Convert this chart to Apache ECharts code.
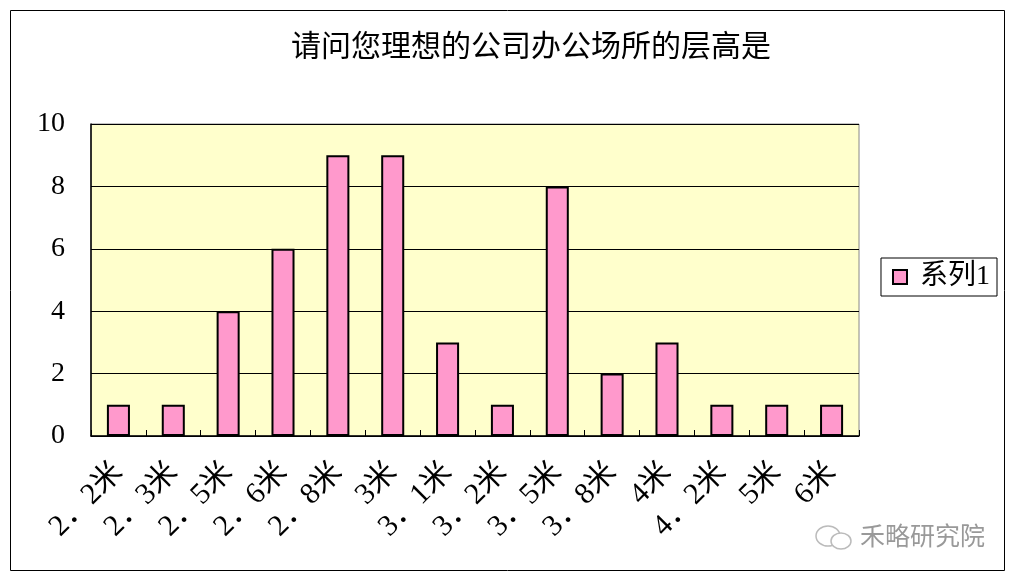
<!DOCTYPE html>
<html>
<head>
<meta charset="utf-8">
<script src="https://cdn.jsdelivr.net/npm/echarts@6/dist/echarts.min.js"></script>
<style>html,body{margin:0;padding:0;background:#fff}#c{width:1017px;height:581px}</style>
</head>
<body>
<div id="c"></div>
<script>
const titleText = '请问您理想的公司办公场所的层高是';
const categories = ['2．2米','2．3米','2．5米','2．6米','2．8米','3米','3．1米','3．2米','3．5米','3．8米','4米','4．2米','5米','6米'];
const values = [1,1,4,6,9,9,3,1,8,2,3,1,1,1];
const seriesName = '系列1';
const yTicks = [0,2,4,6,8,10];

const FONT = "'Liberation Serif', 'DejaVu Serif', 'Noto Sans CJK SC', serif";
const chart = echarts.init(document.getElementById('c'), null, {renderer:'canvas'});
chart.setOption({
  backgroundColor:'#fff',
  animation:false,
  title:{text:titleText,left:526,textAlign:'center',top:28,
    textStyle:{fontFamily:FONT,fontSize:30,fontWeight:'normal',color:'#000'}},
  legend:{show:true,right:20,top:258,orient:'vertical',
    borderColor:'#000',borderWidth:1,padding:[5,7,5,11],
    itemWidth:14,itemHeight:14,itemGap:6,
    textStyle:{fontFamily:FONT,fontSize:28,color:'#000',padding:[0,0,0,8]},
    data:[{name:seriesName,icon:'rect',itemStyle:{borderColor:'#000',borderWidth:2}}]},
  graphic:[
    {type:'rect',shape:{x:10.5,y:10.5,width:994,height:560},style:{fill:'none',stroke:'#000',lineWidth:1},z:-1},
    {type:'ellipse',shape:{cx:828,cy:536,rx:12,ry:10},style:{fill:'none',stroke:'#bbb',lineWidth:1.5}},
    {type:'ellipse',shape:{cx:841,cy:541,rx:10,ry:8},style:{fill:'#fff',stroke:'#bbb',lineWidth:1.5}},
    {type:'text',left:860,top:523,style:{text:'禾略研究院',font:"25px 'Noto Sans CJK SC'",fill:'#999'}}
  ],
  grid:{left:91,right:158,top:124,bottom:145,show:true,backgroundColor:'#FFFFCC',borderColor:'#888',borderWidth:1},
  xAxis:{type:'category',data:categories,
    axisLine:{lineStyle:{color:'#000',width:1.5}},
    axisTick:{show:true,inside:true,length:6,lineStyle:{color:'#000'}},
    axisLabel:{rotate:45,fontFamily:FONT,fontSize:30,color:'#000',margin:32,interval:0}},
  yAxis:{type:'value',min:0,max:10,interval:2,
    axisLine:{show:true,lineStyle:{color:'#000',width:1.5}},
    axisTick:{show:false},
    splitLine:{lineStyle:{color:'#000',width:1}},
    axisLabel:{fontFamily:FONT,fontSize:28,color:'#000',margin:26}},
  series:[{name:seriesName,type:'bar',data:values,barWidth:'42%',
    itemStyle:{color:'#FF99CC',borderColor:'#000',borderWidth:2}}]
});
</script>
</body>
</html>
